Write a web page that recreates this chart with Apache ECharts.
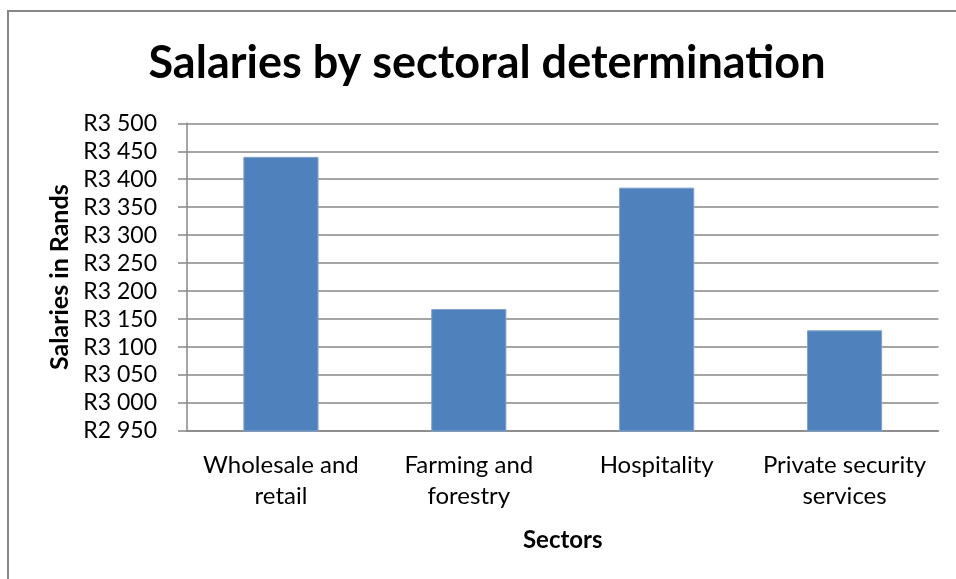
<!DOCTYPE html>
<html>
<head>
<meta charset="utf-8">
<script src="https://cdn.jsdelivr.net/npm/echarts@6/dist/echarts.min.js"></script>
<style>
html,body{margin:0;padding:0;background:#fff;}
#chart{width:956px;height:579px;}
</style>
</head>
<body>
<div id="chart"></div>
<script>
var categories = ["Wholesale and\nretail", "Farming and\nforestry", "Hospitality", "Private security\nservices"];
var salaries = [3440, 3168, 3385, 3130];
var yMin = 2950, yMax = 3500, yStep = 50;

var FONT = "Lato";
var chart = echarts.init(document.getElementById('chart'), null, {renderer: 'canvas'});
chart.setOption({
  animation: false,
  backgroundColor: '#ffffff',
  title: {
    text: 'Salaries by sectoral determination',
    left: 482, top: 36, textAlign: 'center',
    textStyle: {fontFamily: FONT, fontWeight: 'bold', fontSize: 45, color: '#000'}
  },
  graphic: [{
    type: 'rect', shape: {x: 8, y: 11, width: 1200, height: 1200},
    style: {fill: 'none', stroke: '#878787', lineWidth: 2}, silent: true
  }],
  grid: {left: 187, right: 17.5, top: 123.3, bottom: 148, containLabel: false},
  xAxis: {
    type: 'category', data: categories,
    name: 'Sectors', nameLocation: 'middle', nameGap: 97,
    nameTextStyle: {fontFamily: FONT, fontWeight: 'bold', fontSize: 24, color: '#000'},
    axisLine: {show: true, lineStyle: {color: '#878787', width: 1.5}},
    axisTick: {show: false},
    axisLabel: {fontFamily: FONT, fontSize: 24, color: '#000', margin: 19, lineHeight: 31, interval: 0}
  },
  yAxis: {
    type: 'value', min: yMin, max: yMax, interval: yStep,
    name: 'Salaries in Rands', nameLocation: 'middle', nameGap: 115, nameRotate: 90,
    nameTextStyle: {fontFamily: FONT, fontWeight: 'bold', fontSize: 25, color: '#000'},
    axisLine: {show: true, lineStyle: {color: '#878787', width: 1.5}},
    axisTick: {show: true, inside: false, length: 9, lineStyle: {color: '#878787', width: 1.5}},
    splitLine: {show: true, lineStyle: {color: '#878787', width: 1.5}},
    axisLabel: {
      fontFamily: FONT, fontSize: 23, color: '#000', margin: 30,
      formatter: function (v) {
        var s = String(Math.round(v));
        return 'R' + s.slice(0, s.length - 3) + ' ' + s.slice(-3);
      }
    }
  },
  series: [{
    type: 'bar', data: salaries, barWidth: '40%',
    itemStyle: {color: '#4F81BD', borderColor: '#7FA2CF', borderWidth: 1}
  }]
});
</script>
</body>
</html>
